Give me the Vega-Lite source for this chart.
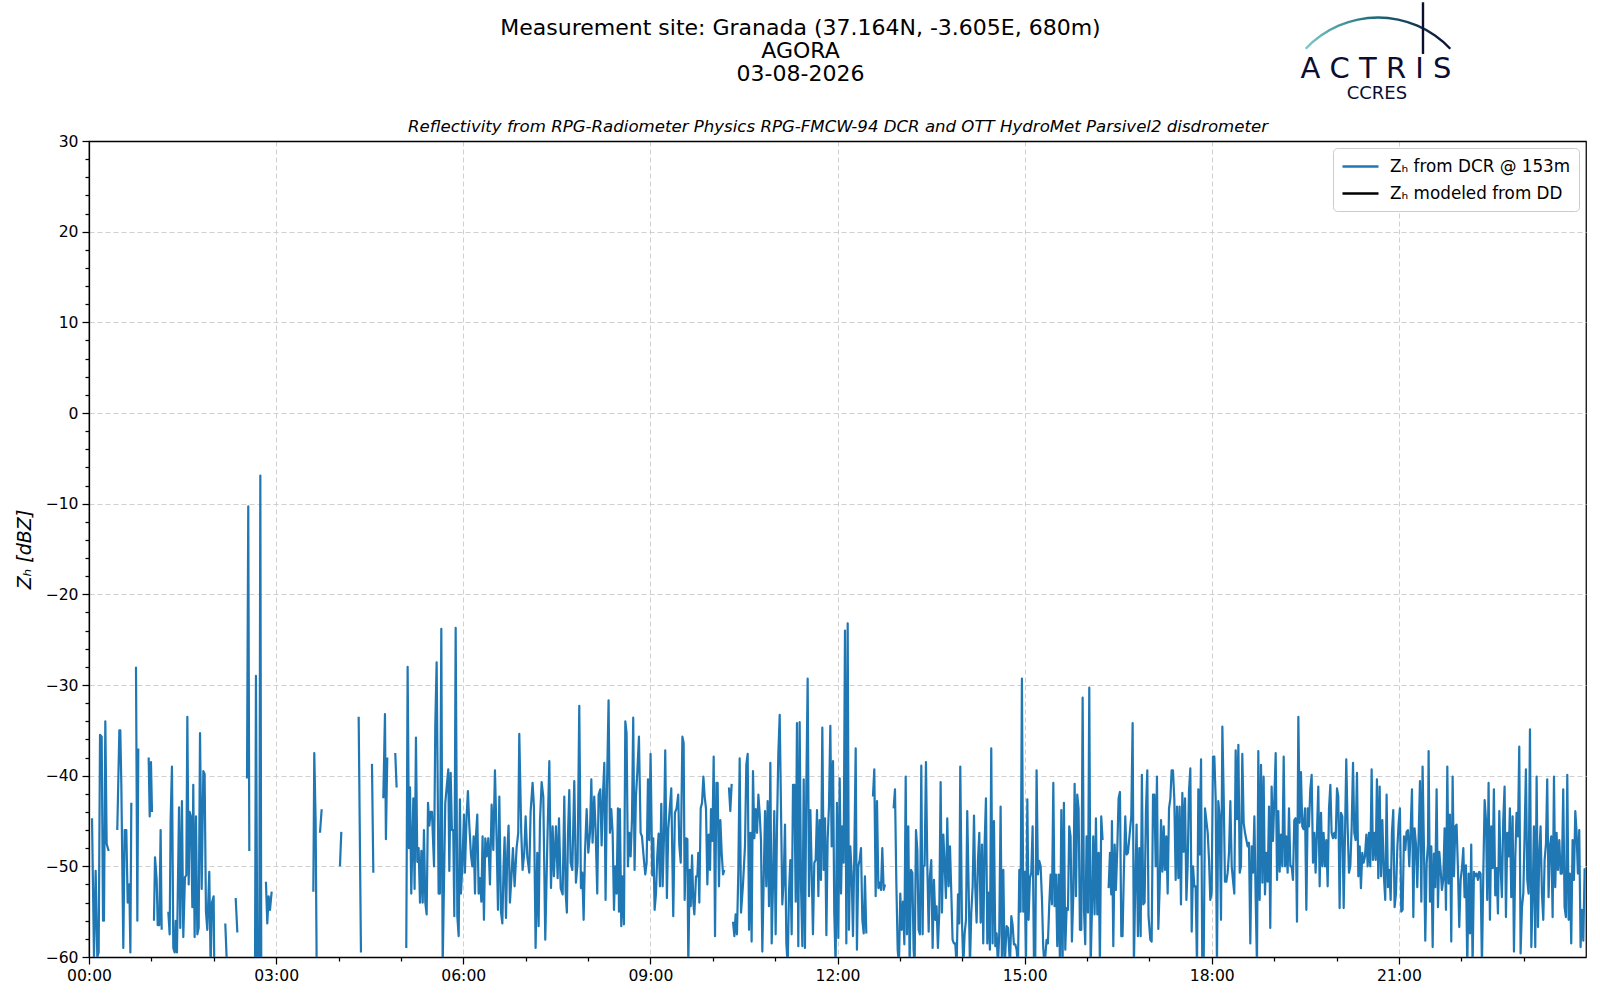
{
  "$schema": "https://vega.github.io/schema/vega-lite/v6.json",
  "width": 1497,
  "height": 816,
  "autosize": "none",
  "padding": {"left": 89, "top": 141, "right": 14, "bottom": 43},
  "background": "white",
  "config": {
    "font": "DejaVu Sans",
    "view": {"stroke": "black", "strokeWidth": 1.25},
    "axis": {
      "labelFont": "DejaVu Sans",
      "labelFontSize": 15.6,
      "labelColor": "black",
      "labelFlush": false,
      "tickColor": "black",
      "tickWidth": 1.25,
      "domain": false,
      "domainColor": "black",
      "domainWidth": 1.25,
      "gridColor": "#d0d0d0",
      "gridDash": [5, 3],
      "gridWidth": 1,
      "labelPadding": 4,
      "titleFont": "DejaVu Sans",
      "titleFontWeight": "normal",
      "titleColor": "black"
    }
  },
  "title": {
    "text": ["Measurement site: Granada (37.164N, -3.605E, 680m)", "AGORA", "03-08-2026"],
    "font": "DejaVu Sans",
    "fontSize": 22,
    "fontWeight": "normal",
    "color": "black",
    "lineHeight": 23,
    "anchor": "middle",
    "frame": "group",
    "dx": -37,
    "offset": -85
  },
  "data": {
    "values": [
      {"t":2.9,"z":-44.7},{"t":4.8,"z":-60},{"t":6.4,"z":-50.5},{"t":8.0,"z":-60},{"t":9.3,"z":-59.5},{"t":10.6,"z":-35.5},{"t":12.2,"z":-35.7},{"t":13.5,"z":-56},{"t":14.4,"z":-56},{"t":15.7,"z":-34},{"t":17.0,"z":-47.5},{"t":18.9,"z":-48.3},{"t":22,"z":null},
      {"t":27.2,"z":-46},{"t":29.2,"z":-35},{"t":30.1,"z":-35},{"t":31.1,"z":-41},{"t":33.0,"z":-59},{"t":34.3,"z":-46},{"t":35.9,"z":-46},{"t":37.2,"z":-54},{"t":38.8,"z":-52},{"t":39.8,"z":-59.5},{"t":40.7,"z":-43},{"t":43,"z":null},
      {"t":45.2,"z":-28},{"t":46.5,"z":-56},{"t":47.4,"z":-37},{"t":50,"z":null},
      {"t":57.4,"z":-38},{"t":58.4,"z":-44.5},{"t":59.6,"z":-38.5},{"t":60.6,"z":-44},{"t":61.5,"z":null},
      {"t":62.5,"z":-56},{"t":63.5,"z":-49},{"t":65.1,"z":-51.5},{"t":66.1,"z":-56.5},{"t":67.6,"z":-56.5},{"t":68.9,"z":-46},{"t":69.9,"z":-57},{"t":73,"z":null},
      {"t":76.3,"z":-55},{"t":77.6,"z":-57.5},{"t":78.5,"z":-45},{"t":79.8,"z":-39},{"t":81.1,"z":-59},{"t":82.4,"z":-59.5},{"t":83.4,"z":-56},{"t":84.6,"z":-59.5},{"t":86.6,"z":-43.5},{"t":87.8,"z":-56.8},{"t":89.4,"z":-42.8},{"t":90.7,"z":-57.8},{"t":92.3,"z":-51.2},{"t":93.6,"z":-51},{"t":94.6,"z":-33.5},{"t":95.9,"z":-52},{"t":96.8,"z":-44},{"t":98.1,"z":-44.5},{"t":99.4,"z":-54.5},{"t":100.3,"z":-41},{"t":101.6,"z":-57.8},{"t":102.9,"z":-44.5},{"t":104.2,"z":-57.5},{"t":105.5,"z":-56.8},{"t":106.8,"z":-35.3},{"t":108.4,"z":-52.5},{"t":110.0,"z":-39.5},{"t":111.2,"z":-39.8},{"t":112.5,"z":-55},{"t":113.8,"z":-57},{"t":115.7,"z":-50.6},{"t":117.0,"z":-61},{"t":118.3,"z":-54},{"t":119.9,"z":-53.3},{"t":120.5,"z":-61},{"t":125,"z":null},
      {"t":131.1,"z":-56.3},{"t":132.7,"z":-61},{"t":136,"z":null},
      {"t":141.1,"z":-53.5},{"t":142.7,"z":-57.3},{"t":147,"z":null},
      {"t":152.0,"z":-40.3},{"t":153.2,"z":-10.3},{"t":154.2,"z":-48.3},{"t":157,"z":null},
      {"t":159.7,"z":-61},{"t":160.6,"z":-29},{"t":161.9,"z":-61},{"t":163,"z":null},
      {"t":163.8,"z":-61},{"t":164.8,"z":-6.9},{"t":165.7,"z":-61},{"t":167,"z":null},
      {"t":170.2,"z":-51.7},{"t":171.5,"z":-56.3},{"t":172.8,"z":-53.3},{"t":174.1,"z":-54.8},{"t":175.7,"z":-52.8},{"t":180,"z":null},
      {"t":215.8,"z":-52.8},{"t":216.7,"z":-37.5},{"t":218.0,"z":-45},{"t":219.0,"z":-61},{"t":220.5,"z":null},
      {"t":222.2,"z":-46.3},{"t":223.8,"z":-43.7},{"t":230,"z":null},
      {"t":241.4,"z":-50},{"t":242.7,"z":-46.2},{"t":250,"z":null},
      {"t":259.4,"z":-33.5},{"t":261.6,"z":-59.5},{"t":266,"z":null},
      {"t":272.2,"z":-38.7},{"t":273.5,"z":-50.7},{"t":278,"z":null},
      {"t":283.1,"z":-42.5},{"t":284.7,"z":-33.2},{"t":285.6,"z":-47},{"t":286.9,"z":-38},{"t":290,"z":null},
      {"t":294.6,"z":-37.5},{"t":295.9,"z":-41.3},{"t":300,"z":null},
      {"t":305.2,"z":-59},{"t":306.5,"z":-28},{"t":307.8,"z":-48},{"t":308.8,"z":-41.3},{"t":310.0,"z":-53},{"t":312.0,"z":-42.5},{"t":313.2,"z":-52.5},{"t":314.5,"z":-35.8},{"t":315.8,"z":-49.5},{"t":317.1,"z":-48},{"t":318.4,"z":-54},{"t":319.7,"z":-48.3},{"t":321.0,"z":-54},{"t":322.2,"z":-46},{"t":323.5,"z":-54},{"t":324.8,"z":-55.3},{"t":326.1,"z":-43},{"t":327.4,"z":-45.5},{"t":328.6,"z":-44},{"t":329.9,"z":-44},{"t":331.9,"z":-50},{"t":333.1,"z":-34.5},{"t":334.4,"z":-27.5},{"t":336.3,"z":-53},{"t":337.6,"z":-53},{"t":338.9,"z":-23.8},{"t":340.2,"z":-61},{"t":342.7,"z":-43},
      {"t":345.6,"z":-39.3},{"t":346.6,"z":-50.5},{"t":347.9,"z":-39.7},{"t":349.1,"z":-46},{"t":350.4,"z":-46},{"t":351.4,"z":-55.5},{"t":352.7,"z":-23.7},{"t":354.3,"z":-55.5},{"t":355.6,"z":-57.7},{"t":356.8,"z":-42.6},{"t":357.8,"z":-53},{"t":359.1,"z":-50},{"t":360.7,"z":-44.3},{"t":361.6,"z":-50.7},{"t":363.2,"z":-44.5},{"t":364.5,"z":-41.7},{"t":365.8,"z":-45.4},{"t":367.4,"z":-48.7},{"t":368.7,"z":-50},{"t":370.0,"z":-46.7},{"t":371.3,"z":-53},{"t":372.2,"z":-46.7},{"t":373.5,"z":-44.3},{"t":374.8,"z":-53},{"t":376.1,"z":-51.3},{"t":377.4,"z":-53.9},{"t":378.6,"z":-46.7},{"t":379.9,"z":-55.9},{"t":381.2,"z":-46.9},{"t":382.5,"z":-48.9},{"t":384.1,"z":-46.9},{"t":385.7,"z":-52},{"t":387.3,"z":-43.2},{"t":388.9,"z":-48.2},{"t":390.5,"z":-39.4},{"t":392.1,"z":-47.1},{"t":393.4,"z":-54.8},{"t":394.7,"z":-42.3},{"t":396.3,"z":-55},{"t":397.6,"z":-56.3},{"t":398.8,"z":-50},{"t":399.8,"z":-46.8},{"t":401.1,"z":-55.7},{"t":402.4,"z":-48.4},{"t":403.6,"z":-45.5},{"t":404.9,"z":-54},{"t":406.2,"z":-51.5},{"t":407.8,"z":-48},{"t":409.4,"z":-52.2},{"t":411.3,"z":-48},{"t":412.9,"z":-46.3},{"t":413.9,"z":-35.4},{"t":415.8,"z":-46.3},{"t":417.1,"z":-50.4},{"t":418.7,"z":-48.5},{"t":420.0,"z":-44.5},{"t":421.6,"z":-48.9},{"t":423.5,"z":-50.7},{"t":424.8,"z":-44},{"t":426.7,"z":-40.8},{"t":428.0,"z":-43.4},{"t":429.6,"z":-59},{"t":431.2,"z":-48.5},{"t":432.5,"z":-56.6},{"t":433.8,"z":-45},{"t":435.4,"z":-40.7},{"t":437.0,"z":-42.3},{"t":438.9,"z":-58.1},{"t":440.8,"z":-47.8},{"t":442.8,"z":-38.4},{"t":444.4,"z":-52.4},{"t":446.0,"z":-45.6},{"t":447.2,"z":-51.1},{"t":449.2,"z":-45.6},{"t":450.8,"z":-51.3},{"t":452.1,"z":-44.7},{"t":453.7,"z":-52.4},{"t":455.6,"z":-53.1},{"t":457.2,"z":-42.3},{"t":458.5,"z":-52.9},{"t":459.7,"z":-55.1},{"t":460.7,"z":-46.7},{"t":462.0,"z":-41.6},{"t":463.3,"z":-49.6},{"t":464.9,"z":-50.4},{"t":466.8,"z":-40.6},{"t":468.4,"z":-51.8},{"t":470.0,"z":-49.6},{"t":471.6,"z":-32.3},{"t":473.2,"z":-52.4},{"t":474.5,"z":-50.7},{"t":475.8,"z":-55.9},{"t":477.1,"z":-48.5},{"t":478.7,"z":-43.7},{"t":480.3,"z":-48.5},{"t":481.9,"z":-46.3},{"t":483.2,"z":-40.4},{"t":484.4,"z":-47.4},{"t":486.0,"z":-42.3},{"t":487.3,"z":-45.9},{"t":488.9,"z":-53},{"t":490.2,"z":-42.1},{"t":491.8,"z":-41.5},{"t":493.1,"z":-47.7},{"t":494.4,"z":-42.1},{"t":495.7,"z":-38.6},{"t":496.9,"z":-53.7},{"t":498.2,"z":-41.5},{"t":499.8,"z":-31.7},{"t":501.1,"z":-46.3},{"t":502.4,"z":-43.7},{"t":503.7,"z":-46.3},{"t":505.0,"z":-54.8},{"t":506.2,"z":-50},{"t":507.5,"z":-53},{"t":508.8,"z":-43.6},{"t":509.8,"z":-55},{"t":510.7,"z":-43.7},{"t":512.0,"z":-56.6},{"t":513.3,"z":-51.1},{"t":514.6,"z":-56.4},{"t":515.9,"z":-34},{"t":517.1,"z":-35.3},{"t":518.4,"z":-50},{"t":519.7,"z":-46.3},{"t":521.0,"z":-48.9},{"t":522.3,"z":-44.8},{"t":523.5,"z":-33.6},{"t":524.8,"z":-50.4},{"t":526.1,"z":-42.3},{"t":527.4,"z":-39.7},{"t":529.0,"z":-35.7},{"t":530.6,"z":-46.3},{"t":531.9,"z":-46.7},{"t":533.8,"z":-49.3},{"t":535.1,"z":-50.9},{"t":536.4,"z":-49.6},{"t":537.7,"z":-40.4},{"t":538.9,"z":-47.1},{"t":540.2,"z":-37.6},{"t":541.8,"z":-51},{"t":542.8,"z":-46.9},{"t":544.1,"z":-54.8},{"t":545.4,"z":-53},{"t":546.6,"z":-48.9},{"t":547.9,"z":-46.4},{"t":549.2,"z":-52.2},{"t":550.5,"z":-43.1},{"t":551.8,"z":-52.2},{"t":553.0,"z":-47.1},{"t":554.3,"z":-37.2},{"t":555.9,"z":-53.5},{"t":557.2,"z":-45.9},{"t":558.8,"z":-43.4},{"t":560.1,"z":-41.4},{"t":562.0,"z":-55.5},{"t":563.6,"z":-44.1},{"t":565.2,"z":-43.6},{"t":566.8,"z":-42.1},{"t":567.8,"z":-47.6},
      {"t":569.2,"z":-49.6},{"t":570.8,"z":-35.7},{"t":572.0,"z":-36.4},{"t":573.0,"z":-53.7},{"t":574.3,"z":-46.9},{"t":575.6,"z":-47},{"t":576.5,"z":-61},{"t":577.8,"z":-50.4},{"t":578.8,"z":-54.4},{"t":580.1,"z":-48.8},{"t":581.3,"z":-54},{"t":582.3,"z":-55.3},{"t":583.9,"z":-51.1},{"t":585.2,"z":-51.1},{"t":586.1,"z":-48.5},{"t":587.1,"z":-54},{"t":588.4,"z":-43.6},{"t":589.7,"z":-43},{"t":591.0,"z":-40.1},{"t":592.2,"z":-42.3},{"t":593.5,"z":-43.6},{"t":594.8,"z":-52},{"t":596.1,"z":-46.5},{"t":597.4,"z":-50.4},{"t":598.3,"z":-43.7},{"t":599.6,"z":-47.2},{"t":600.9,"z":-37.9},{"t":602.2,"z":-57.7},{"t":603.5,"z":-40.8},{"t":604.7,"z":-40.8},{"t":606.0,"z":-52.2},{"t":607.3,"z":-44.9},{"t":608.6,"z":-48.5},{"t":609.9,"z":-50.9},{"t":611.1,"z":-50.4},{"t":613,"z":null},
      {"t":615.6,"z":-41.3},{"t":616.9,"z":-43.9},{"t":618.2,"z":-40.9},{"t":618.9,"z":null},
      {"t":619.5,"z":-56.1},{"t":620.8,"z":-57.7},{"t":622.0,"z":-55.3},{"t":623.3,"z":-57.5},{"t":624.6,"z":-50.6},{"t":625.9,"z":-38.1},{"t":627.2,"z":-55.1},{"t":629.1,"z":-52},{"t":631.0,"z":-47.8},{"t":632.3,"z":-38.8},{"t":633.6,"z":-37.6},{"t":634.9,"z":-57},{"t":636.2,"z":-46.3},{"t":637.4,"z":-58.3},{"t":638.7,"z":-39.5},{"t":640.0,"z":-46.9},{"t":641.3,"z":-43.7},{"t":642.6,"z":-46.3},{"t":643.9,"z":-42.1},{"t":645.1,"z":-44.1},{"t":646.4,"z":-47.1},{"t":647.7,"z":-59.4},{"t":649.0,"z":-51.5},{"t":650.3,"z":-43.9},{"t":651.5,"z":-52.2},{"t":652.8,"z":-42.8},{"t":654.1,"z":-54.4},{"t":655.4,"z":-38.6},{"t":656.7,"z":-58.5},{"t":657.9,"z":-52.2},{"t":659.2,"z":-43.9},{"t":660.5,"z":-57.5},{"t":661.8,"z":-45.6},{"t":663.1,"z":-37.5},{"t":664.4,"z":-33.3},{"t":665.7,"z":-44.1},{"t":666.9,"z":-54.2},{"t":668.2,"z":-51.7},{"t":669.5,"z":-45.4},{"t":670.8,"z":-58.5},{"t":672.1,"z":-61},{"t":673.3,"z":-53},{"t":674.6,"z":-49.3},{"t":675.9,"z":-57.5},{"t":677.2,"z":-41},{"t":678.5,"z":-41},{"t":679.8,"z":-53.9},{"t":681.0,"z":-34.2},{"t":682.3,"z":-58.8},{"t":683.6,"z":-34.1},{"t":684.9,"z":-52.2},{"t":686.2,"z":-58.8},{"t":687.5,"z":-40.4},{"t":688.7,"z":-59},{"t":690.0,"z":-41.5},{"t":691.3,"z":-29.3},{"t":692.6,"z":-53.3},{"t":693.9,"z":-43.8},{"t":695.1,"z":-50},{"t":696.4,"z":-57.5},{"t":697.7,"z":-49.6},{"t":699.0,"z":-49.3},{"t":700.3,"z":-43.8},{"t":701.6,"z":-53.3},{"t":702.8,"z":-44.9},{"t":704.1,"z":-51.5},{"t":705.4,"z":-34.7},{"t":706.7,"z":-50.4},{"t":708.0,"z":-44.7},{"t":709.3,"z":-57.6},{"t":710.5,"z":-47.1},{"t":711.8,"z":-43.4},{"t":713.1,"z":-34.5},{"t":714.4,"z":-47.8},{"t":715.7,"z":-38.4},{"t":716.9,"z":-55.1},{"t":718.2,"z":-61},{"t":719.5,"z":-43},{"t":720.8,"z":-57.9},{"t":722.1,"z":-40.3},{"t":723.4,"z":-53},{"t":724.6,"z":-45.6},{"t":725.9,"z":-49.6},{"t":727.2,"z":-24},{"t":728.5,"z":-58.5},{"t":729.8,"z":-23.2},{"t":731.0,"z":-57},{"t":732.3,"z":-47.8},{"t":733.6,"z":-50.7},{"t":734.9,"z":-57.7},{"t":736.2,"z":-48.5},{"t":737.5,"z":-37},{"t":738.7,"z":-59.2},{"t":740.0,"z":-50},{"t":741.3,"z":-49.3},{"t":742.6,"z":-48},{"t":743.9,"z":-55.9},{"t":745.2,"z":-57.4},{"t":746.4,"z":-51.1},{"t":747.7,"z":-57.4},{"t":750,"z":null},
      {"t":754.1,"z":-42.3},{"t":755.4,"z":-39.3},{"t":756.7,"z":-53.3},{"t":758.0,"z":-42.8},{"t":759.3,"z":-52.4},{"t":760.5,"z":-51.8},{"t":761.8,"z":-52.6},{"t":763.1,"z":-48},{"t":764.4,"z":-52.6},{"t":765.7,"z":-52},{"t":770,"z":null},
      {"t":774.0,"z":-43.6},{"t":775.3,"z":-41.5},{"t":776.6,"z":-51.8},{"t":777.9,"z":-59.2},{"t":779.1,"z":-61},{"t":780.4,"z":-53},{"t":781.7,"z":-57},{"t":783.0,"z":-53.9},{"t":784.3,"z":-58.6},{"t":785.6,"z":-40.1},{"t":786.8,"z":-57.5},{"t":788.1,"z":-45.6},{"t":789.4,"z":-61},{"t":790.7,"z":-50.4},{"t":792.0,"z":-50.7},{"t":793.2,"z":-59.2},
      {"t":794.2,"z":-61},{"t":795.5,"z":-46},{"t":796.8,"z":-48.2},{"t":798.0,"z":-57},{"t":799.3,"z":-57.5},{"t":800.6,"z":-38.9},{"t":801.9,"z":-57.5},{"t":802.5,"z":-50},{"t":803.8,"z":-49.9},{"t":805.1,"z":-38.5},{"t":806.4,"z":-49.9},{"t":807.7,"z":-57.2},{"t":808.9,"z":-51.1},{"t":810.2,"z":-49.3},{"t":811.5,"z":-59},{"t":812.8,"z":-51.5},{"t":814.1,"z":-55.9},{"t":815.3,"z":-54.4},{"t":816.6,"z":-59},{"t":817.9,"z":-55.1},{"t":819.2,"z":-40.7},{"t":820.5,"z":-55.1},{"t":821.8,"z":-46.5},{"t":823.0,"z":-49.6},{"t":824.3,"z":-53.5},{"t":825.6,"z":-44.7},{"t":826.9,"z":-52.2},{"t":828.2,"z":-47.8},{"t":829.5,"z":-53},{"t":830.7,"z":-58.1},{"t":832.0,"z":-58.5},{"t":833.3,"z":-58.5},{"t":834.6,"z":-61},{"t":835.9,"z":-53.1},{"t":837.1,"z":-56.3},{"t":838.1,"z":-39},{"t":839.7,"z":-55.9},{"t":841.0,"z":-61},{"t":842.3,"z":-57.4},{"t":843.6,"z":-55.9},{"t":844.8,"z":-43.9},{"t":846.1,"z":-52},{"t":847.4,"z":-61},{"t":848.7,"z":-55.1},{"t":850.0,"z":-52.2},{"t":851.3,"z":-44.4},{"t":852.5,"z":-52.2},{"t":853.8,"z":-56.2},{"t":855.1,"z":-49.3},{"t":856.4,"z":-46.3},{"t":857.7,"z":-56.2},{"t":859.0,"z":-47.6},{"t":860.2,"z":-58.5},{"t":861.5,"z":-47.6},{"t":862.8,"z":-42.5},{"t":864.1,"z":-58.5},{"t":865.4,"z":-52.9},{"t":866.6,"z":-59.2},{"t":867.9,"z":-37},{"t":869.2,"z":-58.5},{"t":870.5,"z":-45},{"t":871.8,"z":-58.8},{"t":873.1,"z":-57.4},{"t":874.3,"z":-61},{"t":875.6,"z":-57.4},{"t":876.9,"z":-43.4},{"t":878.2,"z":-61},{"t":879.5,"z":-50.4},{"t":880.8,"z":-61},{"t":882.7,"z":-56.6},{"t":884.0,"z":-56.8},{"t":885.9,"z":-61},{"t":887.2,"z":-55.5},{"t":888.4,"z":-56.4},{"t":889.7,"z":-58.6},{"t":891.0,"z":-58.6},{"t":892.3,"z":-59.2},{"t":893.6,"z":-61},{"t":894.9,"z":-50.4},{"t":896.1,"z":-55},{"t":897.4,"z":-29.3},{"t":898.7,"z":-55},{"t":900.0,"z":-50.6},{"t":901.3,"z":-61},{"t":902.6,"z":-42.6},{"t":903.8,"z":-55.9},{"t":905.1,"z":-51.3},{"t":906.4,"z":-50.7},{"t":907.7,"z":-45.6},{"t":909.0,"z":-61},{"t":910.2,"z":-61},{"t":911.5,"z":-39.4},{"t":912.8,"z":-50.9},{"t":914.1,"z":-49.4},{"t":915.4,"z":-50},{"t":916.7,"z":-53.7},{"t":917.9,"z":-59},{"t":919.2,"z":-61},{"t":921.1,"z":-58.1},{"t":922.4,"z":-58.5},{"t":923.7,"z":-54.2},{"t":925.0,"z":-50.9},{"t":926.3,"z":-54.2},{"t":927.6,"z":-40.8},{"t":928.8,"z":-54.4},{"t":930.1,"z":-50.9},{"t":931.4,"z":-58.8},{"t":932.7,"z":-50.9},{"t":934.0,"z":-61},{"t":935.3,"z":-43.8},{"t":936.5,"z":-61},{"t":937.8,"z":-43},{"t":939.1,"z":-59.2},{"t":940.4,"z":-54.6},{"t":941.7,"z":-54.8},{"t":942.9,"z":-45.6},{"t":944.2,"z":-46.7},{"t":945.5,"z":-58.3},{"t":946.8,"z":-53.3},{"t":948.1,"z":-40.9},{"t":949.4,"z":-53.3},{"t":950.6,"z":-42.1},{"t":951.9,"z":-43.6},{"t":953.2,"z":-57},{"t":954.5,"z":-57},{"t":955.8,"z":-31.4},{"t":957.1,"z":-54.8},{"t":958.3,"z":-58.6},{"t":959.6,"z":-46.7},{"t":960.9,"z":-55.1},{"t":962.2,"z":-30.3},{"t":963.5,"z":-61},{"t":964.7,"z":-55.1},{"t":966.0,"z":-46.7},{"t":967.3,"z":-55.3},{"t":968.6,"z":-44.7},{"t":969.9,"z":-55.3},{"t":971.2,"z":-48.5},{"t":972.4,"z":-61},{"t":973.7,"z":-44.5},{"t":975.0,"z":-47.1},{"t":977,"z":null},
      {"t":980.8,"z":-52.4},{"t":982.1,"z":-48.5},{"t":983.3,"z":-53.1},{"t":984.0,"z":-45},{"t":985.3,"z":-58.8},{"t":986.6,"z":-47.6},{"t":987.8,"z":-52.6},{"t":989.1,"z":-48.2},{"t":990.4,"z":-42.5},{"t":991.7,"z":-41.8},{"t":993.0,"z":-57.7},{"t":994.2,"z":-57.7},{"t":995.5,"z":-50.4},{"t":996.8,"z":-44.5},{"t":998.1,"z":-48.7},{"t":999.4,"z":-48.5},{"t":1002.6,"z":-44.5},{"t":1003.9,"z":-34.2},{"t":1005.1,"z":-61},{"t":1006.4,"z":-52.2},{"t":1007.7,"z":-45.4},{"t":1009.0,"z":-57.7},{"t":1010.3,"z":-48},{"t":1011.6,"z":-57.7},{"t":1012.8,"z":-39.9},{"t":1014.1,"z":-54.2},{"t":1015.4,"z":-54},{"t":1016.7,"z":-43.9},{"t":1018.0,"z":-39.4},{"t":1019.2,"z":-55.5},
      {"t":1020.9,"z":-58.1},{"t":1022.2,"z":-58.3},{"t":1023.5,"z":-42.1},{"t":1024.8,"z":-42.1},{"t":1026.1,"z":-50},{"t":1027.3,"z":-40.1},{"t":1028.6,"z":-56.9},{"t":1029.9,"z":-52.4},{"t":1031.2,"z":-44.9},{"t":1032.5,"z":-50.6},{"t":1033.8,"z":-45.6},{"t":1035.0,"z":-50.4},{"t":1036.3,"z":-46.7},{"t":1037.6,"z":-53},{"t":1038.9,"z":-43.6},{"t":1040.2,"z":-42.5},{"t":1041.4,"z":-39.4},{"t":1042.7,"z":-39.4},{"t":1044.0,"z":-42.6},{"t":1045.3,"z":-51.5},{"t":1046.6,"z":-43.4},{"t":1047.9,"z":-51.3},{"t":1049.1,"z":-43.4},{"t":1050.4,"z":-54.2},{"t":1051.7,"z":-41.9},{"t":1053.0,"z":-48.4},{"t":1054.3,"z":-42.5},{"t":1055.6,"z":-53.7},{"t":1056.8,"z":-50},{"t":1058.1,"z":-41.7},{"t":1059.4,"z":-39.2},{"t":1060.7,"z":-57.2},{"t":1062.0,"z":-50},{"t":1063.2,"z":-52.2},{"t":1064.5,"z":-52.2},{"t":1065.8,"z":-61},{"t":1067.1,"z":-41.5},{"t":1068.4,"z":-48.7},{"t":1069.7,"z":-38.2},{"t":1070.9,"z":-61},{"t":1072.2,"z":-61},{"t":1073.5,"z":-43.6},{"t":1076.1,"z":-46.3},{"t":1077.4,"z":-49.3},{"t":1078.6,"z":-53.7},{"t":1079.9,"z":-52.9},{"t":1081.2,"z":-37.9},{"t":1082.5,"z":-37.9},{"t":1083.8,"z":-42.6},{"t":1085.0,"z":-61},{"t":1086.3,"z":-42.8},{"t":1087.6,"z":-44.5},{"t":1088.9,"z":-55.9},{"t":1090.2,"z":-34.6},{"t":1091.5,"z":-42.3},{"t":1092.7,"z":-51.7},{"t":1094.0,"z":-51.7},{"t":1095.3,"z":-50.7},{"t":1096.6,"z":-48.5},{"t":1097.9,"z":-42.8},{"t":1099.2,"z":-50},{"t":1100.4,"z":-51.5},{"t":1101.7,"z":-53},{"t":1103.0,"z":-37.2},{"t":1104.3,"z":-44.8},{"t":1105.6,"z":-36.6},{"t":1106.9,"z":-50.7},{"t":1108.1,"z":-50},{"t":1109.4,"z":-37.6},{"t":1110.7,"z":-45.2},{"t":1112.0,"z":-46.3},{"t":1113.3,"z":-47.1},{"t":1114.5,"z":-47.8},{"t":1115.8,"z":-47.4},{"t":1117.1,"z":-58.5},{"t":1118.4,"z":-47.8},{"t":1119.7,"z":-50.7},{"t":1121.0,"z":-44.5},{"t":1122.2,"z":-53.3},{"t":1123.5,"z":-61},{"t":1124.8,"z":-37.3},{"t":1126.1,"z":-53.7},{"t":1127.4,"z":-38.8},{"t":1128.7,"z":-51.8},{"t":1129.9,"z":-40.1},{"t":1131.2,"z":-53.1},{"t":1132.5,"z":-48.5},{"t":1133.8,"z":-51.7},{"t":1135.1,"z":-43.4},{"t":1136.3,"z":-56.8},{"t":1137.6,"z":-41.2},{"t":1138.9,"z":-47.2},{"t":1140.2,"z":-42.6},{"t":1141.5,"z":-37.5},{"t":1142.8,"z":-51.5},{"t":1144.0,"z":-43.9},{"t":1145.3,"z":-50.6},{"t":1146.6,"z":-46.5},{"t":1147.9,"z":-50},{"t":1149.2,"z":-37.9},{"t":1150.5,"z":-50},{"t":1151.7,"z":-46.7},{"t":1153.0,"z":-50.7},{"t":1154.3,"z":-43.6},{"t":1155.6,"z":-50},{"t":1156.9,"z":-50},{"t":1158.1,"z":-51.5},{"t":1159.4,"z":-44.9},{"t":1160.7,"z":-44.7},{"t":1162.0,"z":-56.1},{"t":1163.3,"z":-33.5},{"t":1164.6,"z":-45.2},{"t":1165.8,"z":-39.6},{"t":1167.1,"z":-45.6},{"t":1168.4,"z":-45.9},{"t":1169.7,"z":-43.6},{"t":1171.0,"z":-54.8},{"t":1172.3,"z":-43.6},{"t":1173.5,"z":-45.6},{"t":1174.8,"z":-41.5},{"t":1176.1,"z":-39.9},{"t":1177.4,"z":-49.6},{"t":1178.7,"z":-46.3},{"t":1179.9,"z":-50.7},{"t":1181.2,"z":-46.3},{"t":1182.5,"z":-41.2},{"t":1183.8,"z":-52.2},{"t":1185.1,"z":-44.1},{"t":1186.4,"z":-50},{"t":1187.6,"z":-46.3},{"t":1188.9,"z":-50},{"t":1190.2,"z":-47.1},{"t":1191.5,"z":-52.2},{"t":1192.8,"z":-43.6},{"t":1194.1,"z":-41},{"t":1195.3,"z":-46.3},{"t":1196.6,"z":-46.9},{"t":1197.9,"z":-46.3},{"t":1199.2,"z":-46.9},{"t":1200.5,"z":-41.4},{"t":1201.7,"z":-42.3},{"t":1203.0,"z":-54.6},{"t":1204.3,"z":-44.1},{"t":1205.6,"z":-44.5},{"t":1206.9,"z":-54.6},{"t":1208.2,"z":-46.3},{"t":1209.4,"z":-38.2},{"t":1210.7,"z":-45.6},{"t":1212.0,"z":-50.7},{"t":1213.3,"z":-50},{"t":1214.6,"z":-45.6},{"t":1215.9,"z":-38.6},{"t":1217.1,"z":-46.3},{"t":1218.4,"z":-47.1},{"t":1219.7,"z":-39.7},{"t":1221.0,"z":-51.1},{"t":1222.3,"z":-47.8},{"t":1223.5,"z":-52.4},{"t":1224.8,"z":-48.5},{"t":1226.1,"z":-49.6},{"t":1227.4,"z":-48.9},{"t":1228.7,"z":-46.5},{"t":1230.0,"z":-50},{"t":1231.2,"z":-46.3},{"t":1232.5,"z":-50},{"t":1233.8,"z":-39.3},{"t":1235.1,"z":-49.3},{"t":1236.4,"z":-46.3},{"t":1237.7,"z":-49.3},{"t":1238.9,"z":-40.4},{"t":1240.2,"z":-51.3},{"t":1241.5,"z":-41.2},{"t":1242.8,"z":-51.1},{"t":1244.1,"z":-44.9},
      {"t":1245.6,"z":-51.1},{"t":1246.9,"z":-53.7},{"t":1248.2,"z":-42.1},{"t":1249.5,"z":-52.3},{"t":1250.8,"z":-50.4},{"t":1252.1,"z":-53.7},{"t":1253.3,"z":-46.3},{"t":1254.6,"z":-43.8},{"t":1255.9,"z":-54.5},{"t":1257.2,"z":-53},{"t":1258.5,"z":-48},{"t":1259.8,"z":-45.2},{"t":1261.0,"z":-43.6},{"t":1262.3,"z":-55},{"t":1263.6,"z":-54.8},{"t":1264.9,"z":-46.7},{"t":1266.2,"z":-48.2},{"t":1267.4,"z":-46.2},{"t":1268.7,"z":-46},{"t":1270.0,"z":-50},{"t":1271.3,"z":-46},{"t":1272.6,"z":-41.5},{"t":1273.9,"z":-55.6},{"t":1275.1,"z":-45.8},{"t":1276.4,"z":-47.5},{"t":1277.7,"z":-52.3},{"t":1279.0,"z":-46.7},{"t":1280.3,"z":-40.6},{"t":1281.6,"z":-53.9},{"t":1282.8,"z":-39},{"t":1284.1,"z":-47.8},{"t":1285.4,"z":-58.2},{"t":1286.7,"z":-49.7},{"t":1288.0,"z":-47.6},{"t":1288.6,"z":-37.3},{"t":1289.9,"z":-53.9},{"t":1291.2,"z":-47.8},{"t":1292.5,"z":-58.9},{"t":1293.7,"z":-48.6},{"t":1295.0,"z":-52.3},{"t":1296.3,"z":-41.5},{"t":1297.6,"z":-54.5},{"t":1298.9,"z":-48.4},{"t":1300.2,"z":-50.4},{"t":1301.4,"z":-52.6},{"t":1302.7,"z":-51.5},{"t":1304.0,"z":-45.8},{"t":1305.3,"z":-54.8},{"t":1306.6,"z":-39},{"t":1307.8,"z":-51.9},{"t":1309.1,"z":-44.3},{"t":1310.4,"z":-58.3},{"t":1311.7,"z":-40.1},{"t":1313.0,"z":-51.1},{"t":1314.3,"z":-45.6},{"t":1315.5,"z":-45.4},{"t":1316.8,"z":-50.2},{"t":1318.1,"z":-56.7},{"t":1319.4,"z":-51.5},{"t":1320.7,"z":-50.2},{"t":1322.0,"z":-48},{"t":1323.2,"z":-53.4},{"t":1324.5,"z":-49.9},{"t":1325.8,"z":-61},{"t":1327.1,"z":-50.8},{"t":1328.4,"z":-57.4},{"t":1329.6,"z":-47.6},{"t":1330.9,"z":-61},{"t":1332.2,"z":-50.6},{"t":1333.5,"z":-51.1},{"t":1334.8,"z":-50.8},{"t":1336.1,"z":-51.5},{"t":1337.3,"z":-50.6},{"t":1338.6,"z":-50.8},{"t":1339.9,"z":-61},{"t":1341.2,"z":-50.9},{"t":1342.5,"z":-42.7},{"t":1343.8,"z":-44.9},{"t":1345.0,"z":-53.7},{"t":1346.3,"z":-40.8},{"t":1347.6,"z":-55.9},{"t":1348.9,"z":-45.6},{"t":1350.2,"z":-50.2},{"t":1351.4,"z":-41.5},{"t":1352.7,"z":-53.2},{"t":1354.0,"z":-50.2},{"t":1355.3,"z":-55.2},{"t":1356.6,"z":-43.9},{"t":1357.9,"z":-50.2},{"t":1359.1,"z":-53.4},{"t":1360.4,"z":-44.9},{"t":1361.7,"z":-41.2},{"t":1363.0,"z":-55.6},{"t":1364.3,"z":-46.3},{"t":1365.6,"z":-48.9},{"t":1366.8,"z":-43.6},{"t":1368.1,"z":-53.4},{"t":1369.4,"z":-44.5},{"t":1370.7,"z":-59.4},{"t":1372.0,"z":-48.9},{"t":1373.2,"z":-44.1},{"t":1374.5,"z":-46.7},{"t":1375.8,"z":-36.8},{"t":1377.1,"z":-59.6},{"t":1378.4,"z":-54.5},{"t":1379.7,"z":-53},{"t":1380.9,"z":-46.7},{"t":1382.2,"z":-39.3},{"t":1383.5,"z":-51.5},{"t":1384.8,"z":-53},{"t":1386.1,"z":-34.9},{"t":1387.4,"z":-58.9},{"t":1388.6,"z":-53.7},{"t":1389.9,"z":-45.6},{"t":1391.2,"z":-58.9},{"t":1392.5,"z":-40.1},{"t":1393.8,"z":-56.7},{"t":1395.0,"z":-48.9},{"t":1396.3,"z":-45.6},{"t":1397.6,"z":-53},{"t":1398.9,"z":-55.9},{"t":1400.2,"z":-49.3},{"t":1401.5,"z":-47.5},{"t":1402.7,"z":-40.4},{"t":1404.0,"z":-53.4},{"t":1405.3,"z":-47.8},{"t":1406.6,"z":-46.7},{"t":1407.9,"z":-55.6},{"t":1409.2,"z":-40.1},{"t":1410.4,"z":-52.3},{"t":1411.7,"z":-46.3},{"t":1413.0,"z":-50.4},{"t":1414.3,"z":-47.1},{"t":1415.6,"z":-50.8},{"t":1416.8,"z":-50.8},{"t":1418.1,"z":-41.5},{"t":1419.4,"z":-54.5},{"t":1420.7,"z":-55.6},{"t":1422.0,"z":-39.9},{"t":1423.3,"z":-55.9},{"t":1424.5,"z":-50.8},{"t":1425.8,"z":-58.5},{"t":1427.1,"z":-47.1},{"t":1428.4,"z":-51.5},{"t":1429.7,"z":-43.9},{"t":1430.9,"z":-46.2},{"t":1432.2,"z":-50.8},{"t":1433.5,"z":-46},{"t":1434.8,"z":-58.9},{"t":1436.1,"z":-54.8},{"t":1437.4,"z":-58.2},{"t":1438.7,"z":-50.2}
    ]
  },
  "layer": [
    {
      "mark": {"type": "line", "strokeWidth": 2.2, "strokeJoin": "round", "clip": true, "invalid": "break-paths-filter-domains"},
      "encoding": {
        "x": {
          "field": "t", "type": "quantitative",
          "scale": {"domain": [0, 1440], "nice": false, "zero": false},
          "axis": {"orient": "bottom", "title": null, "values": [0, 180, 360, 540, 720, 900, 1080, 1260],
                   "labelExpr": "pad('' + floor(datum.value / 60), 2, '0', 'left') + ':00'",
                   "grid": true, "tickSize": 7}
        },
        "y": {
          "field": "z", "type": "quantitative",
          "scale": {"domain": [-60, 30], "nice": false, "zero": false},
          "axis": {"orient": "left", "title": "Zₕ [dBZ]", "titleFontStyle": "italic", "titleFontSize": 19, "titlePadding": 11,
                   "values": [-60, -50, -40, -30, -20, -10, 0, 10, 20, 30], "grid": true, "tickSize": 7}
        },
        "color": {
          "datum": "Zₕ from DCR @ 153m", "type": "nominal",
          "scale": {"domain": ["Zₕ from DCR @ 153m", "Zₕ modeled from DD"], "range": ["#1f77b4", "#000000"]},
          "legend": {
            "orient": "top-right", "offset": 7, "title": null,
            "symbolType": "M-2,0H2", "symbolSize": 324, "symbolStrokeWidth": 2.3, "symbolOffset": 9,
            "labelFont": "DejaVu Sans", "labelFontSize": 16.8, "labelColor": "black", "labelOffset": 19, "labelLimit": 400,
            "fillColor": "white", "strokeColor": "#cccccc", "cornerRadius": 4, "padding": 8, "rowPadding": 7
          }
        }
      }
    },
    {
      "mark": {"type": "point", "opacity": 0},
      "encoding": {
        "x": {
          "field": "t", "type": "quantitative",
          "scale": {"domain": [0, 1440], "nice": false, "zero": false},
          "axis": {"orient": "bottom", "title": null, "labels": false, "grid": false, "tickSize": 4, "domain": true, "zindex": 1,
                   "values": [60, 120, 240, 300, 420, 480, 600, 660, 780, 840, 960, 1020, 1140, 1200, 1320, 1380]}
        },
        "y": {
          "field": "z", "type": "quantitative",
          "scale": {"domain": [-60, 30], "nice": false, "zero": false},
          "axis": {"orient": "left", "title": null, "labels": false, "grid": false, "tickSize": 4, "domain": true, "zindex": 1,
                   "values": [-58, -56, -54, -52, -48, -46, -44, -42, -38, -36, -34, -32, -28, -26, -24, -22, -18, -16, -14, -12, -8, -6, -4, -2, 2, 4, 6, 8, 12, 14, 16, 18, 22, 24, 26, 28]}
        }
      }
    },
    {
      "data": {"values": [{}]},
      "mark": {"type": "text", "text": "A C T R I S", "font": "DejaVu Sans", "fontSize": 29, "color": "#0c0e30", "align": "center", "baseline": "alphabetic", "clip": false},
      "encoding": {
        "x": {
          "datum": 1238, "type": "quantitative",
          "scale": {"domain": [0, 1440], "nice": false, "zero": false},
          "axis": {"orient": "top", "title": "Reflectivity from RPG-Radiometer Physics RPG-FMCW-94 DCR and OTT HydroMet Parsivel2 disdrometer",
                   "titleFontStyle": "italic", "titleFontSize": 16.6, "titlePadding": 7,
                   "labels": false, "ticks": false, "grid": false, "domain": true, "zindex": 1}
        },
        "y": {"datum": 36.95, "type": "quantitative", "scale": {"domain": [-60, 30], "nice": false, "zero": false}, "axis": null}
      }
    },
    {
      "data": {"values": [{}]},
      "mark": {"type": "text", "text": "CCRES", "font": "DejaVu Sans", "fontSize": 18, "color": "#0c0e30", "align": "center", "baseline": "alphabetic", "clip": false},
      "encoding": {
        "x": {"datum": 1238.9, "type": "quantitative", "scale": {"domain": [0, 1440], "nice": false, "zero": false}, "axis": null},
        "y": {"datum": 34.63, "type": "quantitative", "scale": {"domain": [-60, 30], "nice": false, "zero": false}, "axis": null}
      }
    },
    {
      "data": {"values": [{}]},
      "mark": {
        "type": "arc", "innerRadius": 98.3, "outerRadius": 100.6, "theta": -0.814, "theta2": 0.814, "clip": false,
        "fill": {"gradient": "linear", "x1": 0, "x2": 1, "y1": 0, "y2": 0,
                 "stops": [{"offset": 0, "color": "#7ccac6"}, {"offset": 0.45, "color": "#1f6f80"}, {"offset": 1, "color": "#0c0e30"}]}
      },
      "encoding": {
        "x": {"datum": 1239.9, "type": "quantitative", "scale": {"domain": [0, 1440], "nice": false, "zero": false}, "axis": null},
        "y": {"datum": 32.65, "type": "quantitative", "scale": {"domain": [-60, 30], "nice": false, "zero": false}, "axis": null}
      }
    },
    {
      "data": {"values": [{}]},
      "mark": {"type": "rule", "color": "#0c0e30", "strokeWidth": 2.4, "clip": false},
      "encoding": {
        "x": {"datum": 1283.2, "type": "quantitative", "scale": {"domain": [0, 1440], "nice": false, "zero": false}, "axis": null},
        "y": {"datum": 45.3, "type": "quantitative", "scale": {"domain": [-60, 30], "nice": false, "zero": false}, "axis": null},
        "y2": {"datum": 39.6}
      }
    }
  ],
  "resolve": {"axis": {"x": "independent", "y": "independent"}}
}
